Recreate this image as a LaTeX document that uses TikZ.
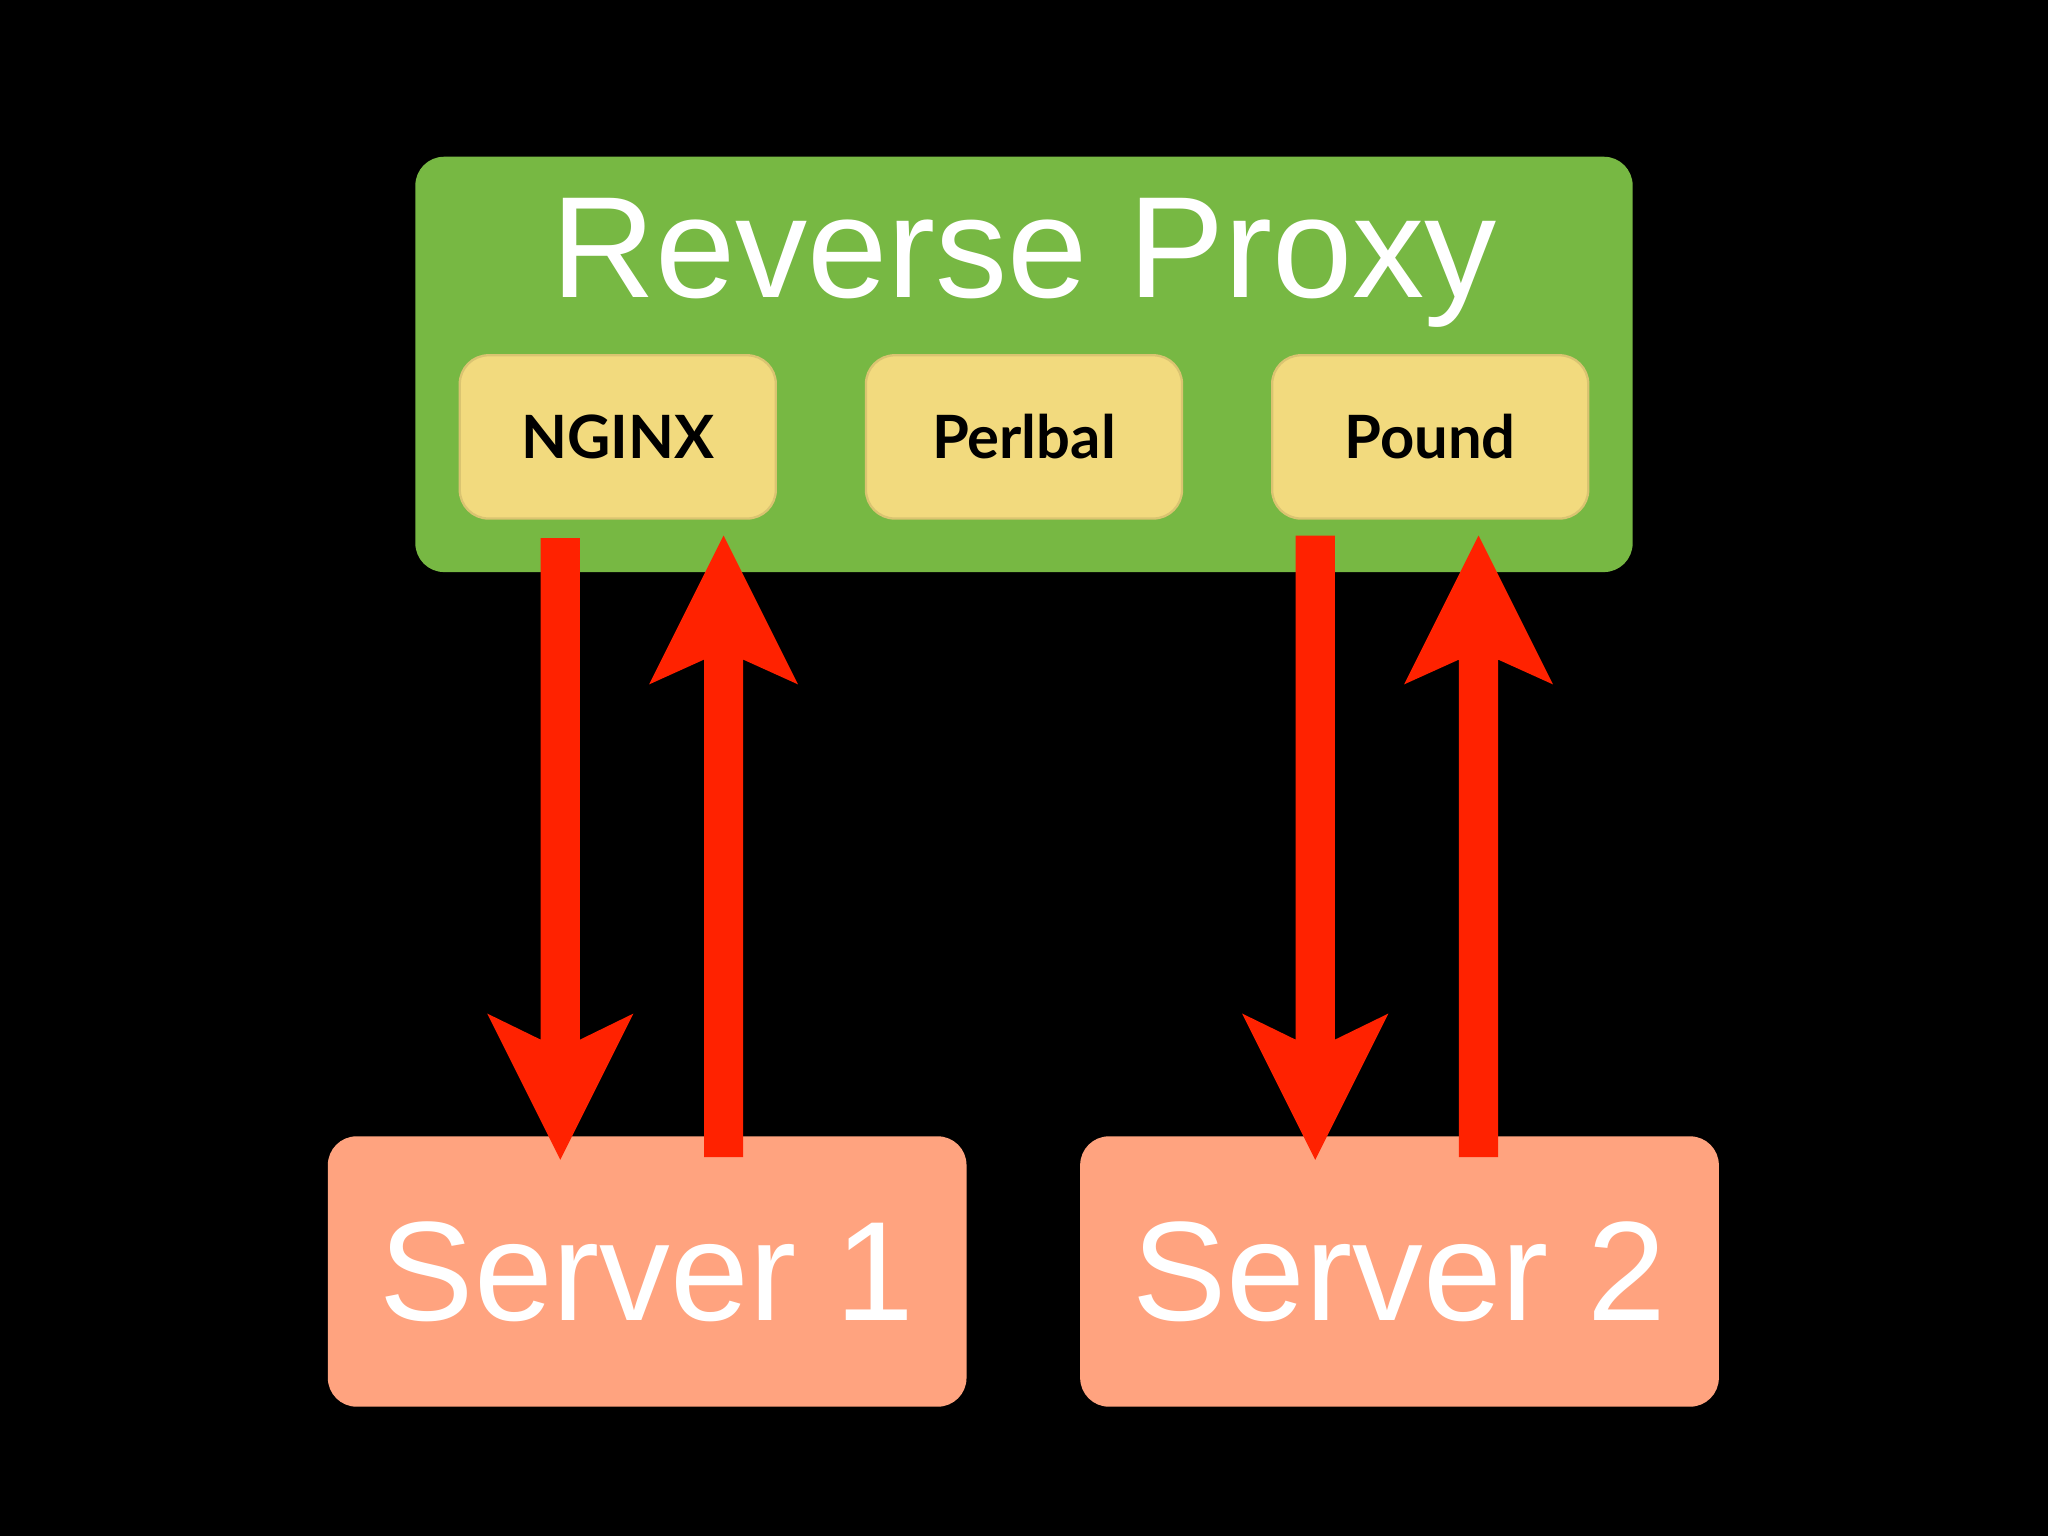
\documentclass[tikz,border=0pt]{standalone}
\usepackage{fontspec}
\setmainfont{Liberation Sans}
\newfontfamily\gill{Lato}
\definecolor{grn}{HTML}{77B843}
\definecolor{yel}{HTML}{F2DA7E}
\definecolor{sal}{HTML}{FFA37F}
\definecolor{arr}{HTML}{FF2200}
\tikzset{
  box/.style={rounded corners=0.22cm,inner sep=0},
  ybox/.style={fill=yel,draw=yel!90!black,line width=0.5pt,rounded corners=0.22cm},
  ylab/.style={anchor=base,font=\gill\bfseries\fontsize{13}{14}\selectfont,text=black},
}
\newcommand\myDown[3]{% cx, top, tip
  \fill[arr] (#1-15,#2) -- (#1+15,#2) -- (#1+15,#3-92) -- (#1+56,#3-112) -- (#1,#3) -- (#1-56,#3-112) -- (#1-15,#3-92) -- cycle;}
\newcommand\myUp[3]{% cx, bottom, tip
  \fill[arr] (#1-15,#2) -- (#1+15,#2) -- (#1+15,#3+95) -- (#1+57,#3+114) -- (#1,#3) -- (#1-57,#3+114) -- (#1-15,#3+95) -- cycle;}
\begin{document}
\begin{tikzpicture}[x=0.01cm,y=-0.01cm]
\useasboundingbox (0,0) rectangle (1568,1176);
\fill[black] (0,0) rectangle (1568,1176);
\fill[grn,box] (318,120) rectangle (1250,438);
\node[anchor=base,text=white,font=\fontsize{31.4}{32}\selectfont] (title) at (784,228) {Reverse Proxy};
\draw[ybox] (352,272) rectangle (594,397);
\draw[ybox] (663,272) rectangle (905,397);
\draw[ybox] (974,272) rectangle (1216,397);
\node[ylab] (nginx) at (473,351) {NGINX};
\node[ylab] (perlbal) at (784,351) {Perlbal};
\node[ylab] (pound) at (1095,351) {Pound};
\fill[sal,box] (251,870) rectangle (740,1077);
\fill[sal,box] (827,870) rectangle (1316,1077);
\node[anchor=base,text=white,font=\fontsize{30.8}{31}\selectfont] (s1) at (495.5,1011) {Server 1};
\node[anchor=base,text=white,font=\fontsize{30.8}{31}\selectfont] (s2) at (1071.5,1011) {Server 2};
\myDown{429}{412}{888}
\myUp{554}{886}{410}
\myDown{1007}{410}{888}
\myUp{1132}{886}{410}
\end{tikzpicture}
\end{document}
